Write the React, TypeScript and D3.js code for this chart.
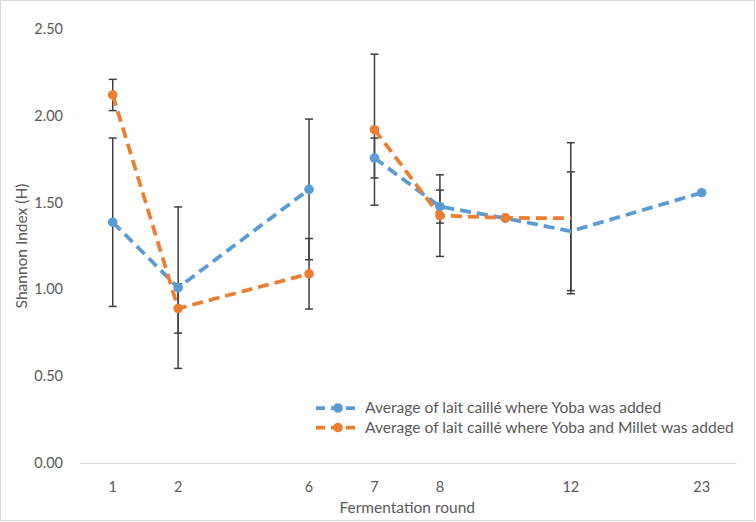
import React from "react";
import * as d3 from "d3";

const tickLabels = ["1", "2", "", "6", "7", "8", "", "12", "", "23"];
const yTicks = [0, 0.5, 1.0, 1.5, 2.0, 2.5];

// Yoba series (blue)
const yobaValues = [1.387, 1.01, null, 1.576, 1.757, 1.477, 1.41, 1.335, null, 1.557];
const yobaErrors = [0.485, 0.465, null, 0.405, 0.115, 0.095, null, 0.342, null, null];
const yobaMarkers = [true, true, false, true, true, true, true, false, false, true];
const yobaSegments = [[0, 1, 3], [4, 5, 6, 7, 9]];

// Yoba + Millet series (orange)
const milletValues = [2.12, 0.89, null, 1.09, 1.92, 1.425, 1.412, 1.41, null, null];
const milletErrors = [0.09, 0.142, null, 0.203, 0.435, 0.235, null, 0.435, null, null];
const milletMarkers = [true, true, false, true, true, true, true, false, false, false];
const milletSegments = [[0, 1, 3], [4, 5, 6, 7]];

const seriesNames = [
  "Average of lait caillé where Yoba was added",
  "Average of lait caillé where Yoba and Millet was added",
];

const W = 756;
const H = 522;
const left = 80;
const right = 734.4;
const top = 29;
const bottom = 463;
const BLUE = "#5B9BD5";
const ORANGE = "#ED7D31";
const TEXT = "#595959";
const FONT = "Lato, 'Open Sans', sans-serif";

export default function App() {
  const x = d3
    .scaleBand<number>()
    .domain(d3.range(tickLabels.length))
    .range([left, right]);
  const cx = (i: number) => (x(i) as number) + x.bandwidth() / 2;
  const y = d3.scaleLinear().domain([0, 2.5]).range([bottom, top]);

  const series = [
    { values: yobaValues, errors: yobaErrors, markers: yobaMarkers, segments: yobaSegments, color: BLUE },
    { values: milletValues, errors: milletErrors, markers: milletMarkers, segments: milletSegments, color: ORANGE },
  ];

  const errorBars: JSX.Element[] = [];
  series.forEach((s, si) => {
    s.values.forEach((v, i) => {
      const e = s.errors[i];
      if (v == null || e == null) return;
      const x0 = cx(i);
      const y1 = y(v + e);
      const y2 = y(v - e);
      errorBars.push(
        <g key={`e${si}-${i}`} stroke="#3F3F3F" strokeWidth={1.5}>
          <line x1={x0} x2={x0} y1={y1} y2={y2} />
          <line x1={x0 - 4} x2={x0 + 4} y1={y1} y2={y1} />
          <line x1={x0 - 4} x2={x0 + 4} y1={y2} y2={y2} />
        </g>
      );
    });
  });

  const lineGen = d3
    .line<[number, number]>()
    .x((d) => cx(d[0]))
    .y((d) => y(d[1]));

  return (
    <svg width={W} height={H} style={{ position: "absolute", left: 0, top: 0 }} fontFamily={FONT}>
      <rect x={0} y={0} width={W} height={H} fill="#fff" />
      <rect x={0.5} y={0.5} width={W - 2} height={H - 2} fill="none" stroke="#D9D9D9" />
      {yTicks.map((t) => (
        <text key={t} x={63} y={y(t)} dy="0.35em" textAnchor="end" fontSize={14.5} fill={TEXT}>
          {t.toFixed(2)}
        </text>
      ))}
      <line x1={left} x2={right + 2} y1={bottom + 0.5} y2={bottom + 0.5} stroke="#D9D9D9" strokeWidth={1} />
      {tickLabels.map((l, i) => (
        <text key={i} x={cx(i)} y={487} dy="0.35em" textAnchor="middle" fontSize={14.5} fill={TEXT}>
          {l}
        </text>
      ))}
      <text x={(left + right) / 2} y={508} dy="0.35em" textAnchor="middle" fontSize={15.5} fill={TEXT}>
        Fermentation round
      </text>
      <text
        transform={`translate(21.5,${(top + bottom) / 2}) rotate(-90)`}
        textAnchor="middle"
        dy="0.35em"
        fontSize={15.5}
        fill={TEXT}
      >
        Shannon Index (H)
      </text>
      {errorBars}
      {series.map((s, si) => (
        <g key={si}>
          {s.segments.map((seg, k) => (
            <path
              key={k}
              d={lineGen(seg.map((i) => [i, s.values[i] as number]) as [number, number][]) || ""}
              fill="none"
              stroke={s.color}
              strokeWidth={3.75}
              strokeDasharray="11 6"
            />
          ))}
          {s.values.map((v, i) =>
            v != null && s.markers[i] ? (
              <circle key={i} cx={cx(i)} cy={y(v)} r={4.8} fill={s.color} />
            ) : null
          )}
        </g>
      ))}
      {seriesNames.map((name, i) => {
        const ly = 408 + i * 19.5;
        const color = i === 0 ? BLUE : ORANGE;
        return (
          <g key={name}>
            <line x1={316} x2={359} y1={ly} y2={ly} stroke={color} strokeWidth={3.75} strokeDasharray="9 6" />
            <circle cx={338} cy={ly} r={4.8} fill={color} />
            <text x={365} y={ly} dy="0.35em" fontSize={15.6} fill={TEXT}>
              {name}
            </text>
          </g>
        );
      })}
    </svg>
  );
}
